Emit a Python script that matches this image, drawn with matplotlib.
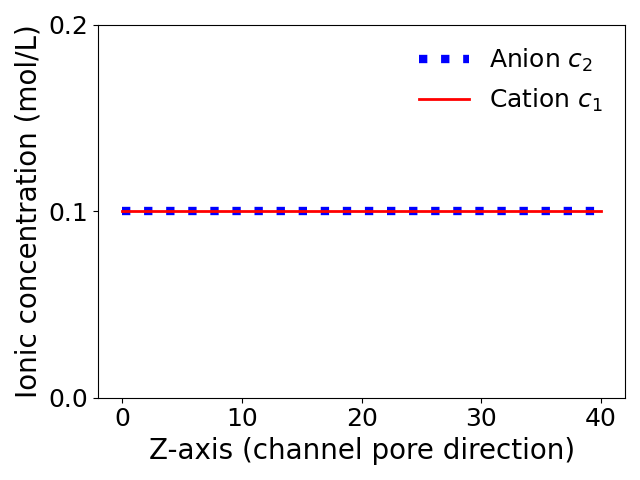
import numpy as np
import matplotlib
matplotlib.use("Agg")
import matplotlib.pyplot as plt

z = [0, 40]
anion = [0.1, 0.1]
cation = [0.1, 0.1]

fig, ax = plt.subplots(figsize=(6.4, 4.8), dpi=100)
ax.plot(z, anion, ':', color='blue', lw=6, label='Anion $c_2$')
ax.plot(z, cation, '-', color='red', lw=2, label='Cation $c_1$')
ax.set_ylim(0, 0.2)
ax.set_yticks([0.0, 0.1, 0.2])
ax.set_xticks([0, 10, 20, 30, 40])
ax.tick_params(labelsize=18)
ax.set_xlabel('Z-axis (channel pore direction)', fontsize=20)
ax.set_ylabel('Ionic concentration (mol/L)', fontsize=20)
ax.legend(fontsize=18, frameon=False)
fig.tight_layout()
fig.savefig('out.png')
